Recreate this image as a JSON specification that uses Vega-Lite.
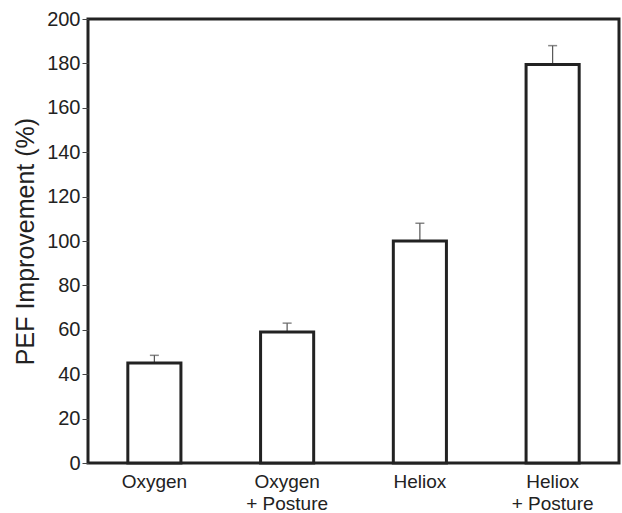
{
  "$schema": "https://vega.github.io/schema/vega-lite/v6.json",
  "width": 531,
  "height": 444,
  "autosize": {"type": "none"},
  "padding": {"left": 88, "top": 19, "right": 3, "bottom": 50},
  "background": "white",
  "config": {
    "font": "Liberation Sans",
    "view": {"stroke": "#222222", "strokeWidth": 3}
  },
  "data": {
    "values": [
      {"group": "Oxygen", "value": 45, "upper": 48.5},
      {"group": "Oxygen|+ Posture", "value": 59, "upper": 63},
      {"group": "Heliox", "value": 100, "upper": 108},
      {"group": "Heliox|+ Posture", "value": 179.5, "upper": 188}
    ]
  },
  "encoding": {
    "x": {
      "field": "group",
      "type": "nominal",
      "sort": null,
      "scale": {"paddingInner": 0.6, "paddingOuter": 0.3},
      "axis": {
        "title": null,
        "labelAngle": 0,
        "domain": false,
        "ticks": false,
        "labelPadding": 9,
        "labelFontSize": 19,
        "labelColor": "#222222",
        "labelLineHeight": 22,
        "labelExpr": "split(datum.label, '|')"
      }
    }
  },
  "layer": [
    {
      "mark": {"type": "rule", "color": "#555555", "strokeWidth": 1.2},
      "encoding": {
        "y": {"field": "value", "type": "quantitative"},
        "y2": {"field": "upper"}
      }
    },
    {
      "mark": {"type": "tick", "color": "#555555", "thickness": 1.5, "size": 9},
      "encoding": {
        "y": {"field": "upper", "type": "quantitative"}
      }
    },
    {
      "mark": {"type": "bar", "fill": "white", "stroke": "#222222", "strokeWidth": 3},
      "encoding": {
        "y": {
          "field": "value",
          "type": "quantitative",
          "scale": {"domain": [0, 200], "nice": false},
          "axis": {
            "title": "PEF Improvement (%)",
            "titleFontSize": 25,
            "titleFontWeight": "normal",
            "titleColor": "#222222",
            "titlePadding": 8,
            "values": [0, 20, 40, 60, 80, 100, 120, 140, 160, 180, 200],
            "domain": false,
            "grid": false,
            "tickSize": 6,
            "tickColor": "#444444",
            "tickWidth": 1,
            "labelPadding": 2,
            "labelFontSize": 20,
            "labelColor": "#222222"
          }
        }
      }
    }
  ]
}
